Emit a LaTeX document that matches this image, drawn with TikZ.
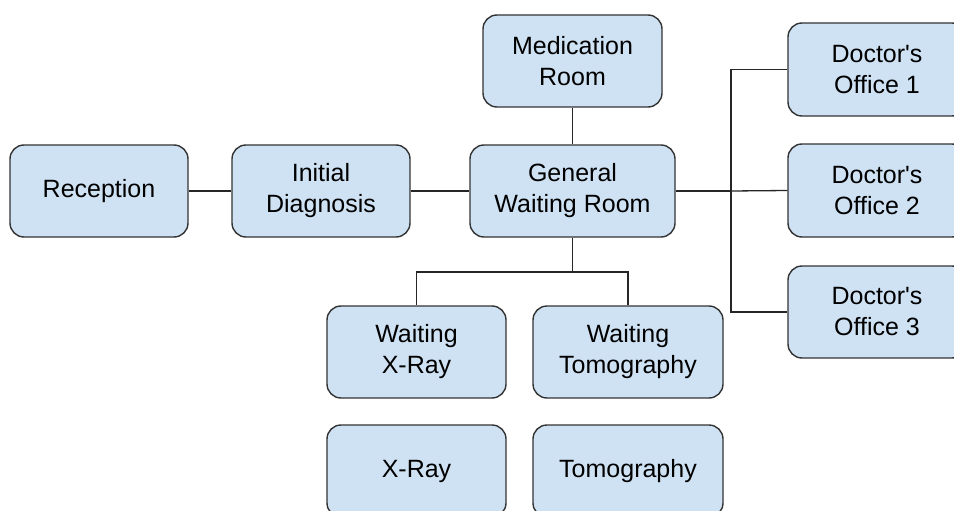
\documentclass[tikz,border=0pt]{standalone}
\usepackage{fontspec}
\setmainfont{Liberation Sans}
\definecolor{boxfill}{HTML}{CFE2F3}
\definecolor{boxline}{HTML}{333333}
\begin{document}
\begin{tikzpicture}[x=1pt,y=1pt,
  room/.style={draw=boxline, fill=boxfill, line width=1.4pt, rounded corners=14pt,
    minimum height=92pt, inner sep=0pt, align=center,
    font=\fontsize{25}{31}\selectfont},
  link/.style={draw=black!85, line width=1.3pt}]
\useasboundingbox (0,0) rectangle (954,-511);
\clip (0,0) rectangle (954,-511);
\fill[white] (0,0) rectangle (954,-511);
\node[room, minimum width=178pt] (rec) at (99,-191) {Reception};
\node[room, minimum width=178pt] (diag) at (321,-191) {Initial\\Diagnosis};
\node[room, minimum width=205pt] (gwr) at (572.5,-191) {General\\Waiting Room};
\node[room, minimum width=179pt] (med) at (572.5,-61) {Medication\\Room};
\node[room, minimum width=178pt, minimum height=93pt] (d1) at (877,-69.5) {Doctor\textquotesingle s\\Office 1};
\node[room, minimum width=178pt, minimum height=93pt] (d2) at (877,-190.5) {Doctor\textquotesingle s\\Office 2};
\node[room, minimum width=178pt] (d3) at (877,-312) {Doctor\textquotesingle s\\Office 3};
\node[room, minimum width=179pt] (wx) at (416.5,-352) {Waiting\\X-Ray};
\node[room, minimum width=190pt] (wt) at (628,-352) {Waiting\\Tomography};
\node[room, minimum width=179pt] (xr) at (416.5,-471) {X-Ray};
\node[room, minimum width=190pt] (tm) at (628,-471) {Tomography};
\coordinate (trunk) at (731,-191);
\coordinate (fork) at (572.5,-272);
\draw[link] (rec.east) -- (diag.west);
\draw[link] (diag.east) -- (gwr.west);
\draw[link] (med.south) -- (gwr.north);
\draw[link, line width=1.8pt] (gwr.east) -- (trunk);
\draw[link] (trunk) |- (d1.west);
\draw[link] (trunk) -- (d2.west);
\draw[link] (trunk) |- (d3.west);
\draw[link] (gwr.south) -- (fork);
\draw[link] (fork) -| (wx.north);
\draw[link] (fork) -| (wt.north);
\end{tikzpicture}
\end{document}
